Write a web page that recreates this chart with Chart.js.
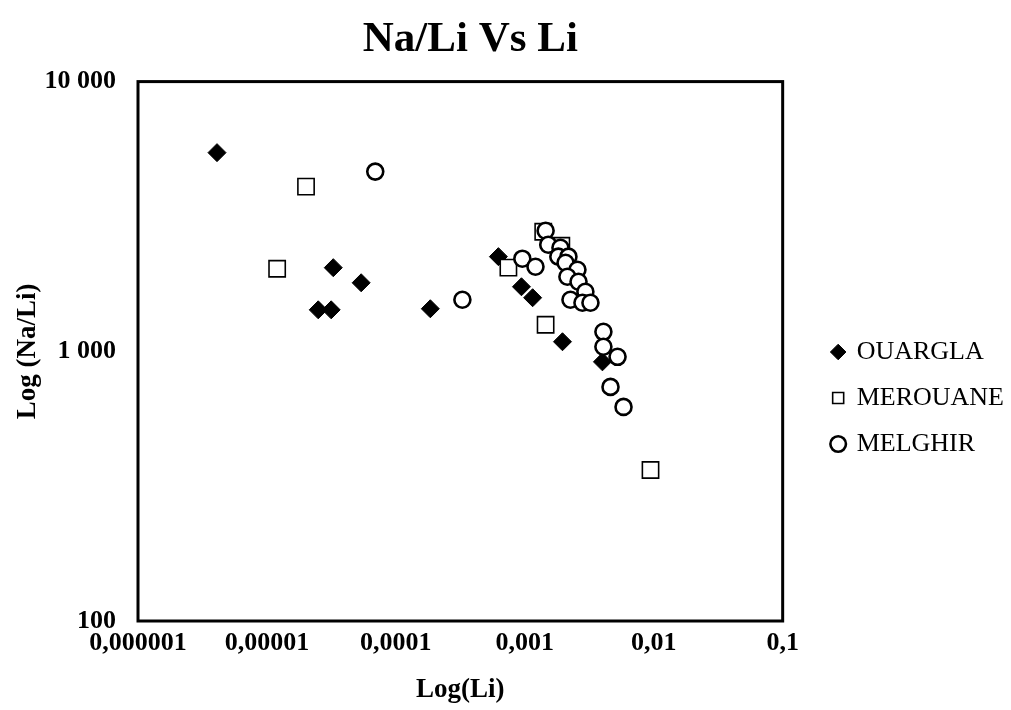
<!DOCTYPE html>
<html>
<head>
<meta charset="utf-8">
<title>Na/Li Vs Li</title>
<script src="https://cdn.jsdelivr.net/npm/chart.js@4.4.1/dist/chart.umd.min.js"></script>
<style>
  html, body { margin: 0; padding: 0; background: #fff; }
</style>
</head>
<body>
<canvas id="naLiChart" width="1011" height="710"></canvas>
<script>
// Li (x) and Na/Li ratio (y) for each site
const ouarglaLi   = [4.1e-6, 3.27e-5, 2.5e-5, 3.15e-5, 5.38e-5, 1.85e-4, 6.24e-4, 9.42e-4, 1.15e-3, 1.96e-3, 4.0e-3];
const ouarglaNaLi = [5453, 2042, 1425, 1425, 1795, 1438, 2244, 1735, 1580, 1085, 914];

const merouaneLi   = [1.2e-5, 2.01e-5, 7.46e-4, 1.45e-3, 9.44e-3, 1.39e-3, 1.92e-3];
const merouaneNaLi = [2024, 4077, 2042, 1254, 363, 2776, 2463];

const melghirLi   = [6.92e-5, 3.28e-4, 9.57e-4, 1.21e-3, 1.45e-3, 1.52e-3, 1.89e-3, 1.82e-3, 2.18e-3, 2.07e-3,
                     2.56e-3, 2.14e-3, 2.61e-3, 2.95e-3, 2.26e-3, 2.8e-3, 3.23e-3, 4.07e-3, 4.07e-3, 5.24e-3,
                     4.62e-3, 5.83e-3];
const melghirNaLi = [4637, 1553, 2205, 2059, 2800, 2485, 2421, 2244, 2244, 2130,
                     2006, 1890, 1811, 1663, 1553, 1514, 1514, 1181, 1040, 954,
                     738, 622];

const xTicks = [0.000001, 0.00001, 0.0001, 0.001, 0.01, 0.1];
const yTicks = [100, 1000, 10000];

const serif = "'Liberation Serif', 'Times New Roman', serif";

const toPoints = (xs, ys) => xs.map((x, i) => ({ x: x, y: ys[i] }));

// plot frame on all four sides
const framePlugin = {
  id: 'frame',
  beforeDatasetsDraw(chart) {
    const { ctx, chartArea: a } = chart;
    ctx.save();
    ctx.strokeStyle = '#000';
    ctx.lineWidth = 3;
    ctx.strokeRect(a.left, a.top, a.right - a.left, a.bottom - a.top);
    ctx.restore();
  }
};

// nudge title and legend blocks after layout
const blockShift = {
  id: 'blockShift',
  afterLayout(chart, args, opts) {
    const lg = chart.legend;
    lg.left += opts.legendDx; lg.right += opts.legendDx;
    lg.top += opts.legendDy; lg.bottom += opts.legendDy;
    const tb = chart.titleBlock;
    tb.left += opts.titleDx; tb.right += opts.titleDx;
  }
};

const ctx = document.getElementById('naLiChart');
const chart = new Chart(ctx, {
  type: 'scatter',
  data: {
    datasets: [
      {
        label: 'OUARGLA',
        data: toPoints(ouarglaLi, ouarglaNaLi),
        pointStyle: 'rectRot',
        radius: 9,
        backgroundColor: '#000',
        borderColor: '#000',
        borderWidth: 1,
        order: 3
      },
      {
        label: 'MEROUANE',
        data: toPoints(merouaneLi, merouaneNaLi),
        pointStyle: 'rect',
        radius: 11.5,
        backgroundColor: '#fff',
        borderColor: '#000',
        borderWidth: 1.6,
        order: 2
      },
      {
        label: 'MELGHIR',
        data: toPoints(melghirLi, melghirNaLi),
        pointStyle: 'circle',
        radius: 8,
        backgroundColor: '#fff',
        borderColor: '#000',
        borderWidth: 2.6,
        order: 1
      }
    ]
  },
  options: {
    responsive: false,
    animation: false,
    events: [],
    layout: { padding: { top: 14, right: 27, bottom: 4, left: 4 } },
    plugins: {
      title: {
        display: true,
        text: 'Na/Li Vs Li',
        fullSize: false,
        color: '#000',
        font: { family: serif, size: 43, weight: 'bold' },
        padding: { top: 0, bottom: 16 }
      },
      legend: {
        position: 'right',
        labels: {
          usePointStyle: true,
          boxWidth: 11,
          boxHeight: 11,
          padding: 20,
          color: '#000',
          font: { family: serif, size: 26 },
          sort: (a, b) => a.datasetIndex - b.datasetIndex
        }
      },
      blockShift: { legendDx: 30, legendDy: 38, titleDx: 10 },
      tooltip: { enabled: false }
    },
    scales: {
      x: {
        type: 'logarithmic',
        min: 0.000001,
        max: 0.1,
        afterBuildTicks: s => { s.ticks = xTicks.map(v => ({ value: v })); },
        afterFit: s => { s.height = 85; },
        grid: { display: false, drawTicks: false },
        border: { display: false },
        ticks: {
          color: '#000',
          padding: 7,
          autoSkip: false,
          maxRotation: 0,
          font: { family: serif, size: 26, weight: 'bold' },
          callback: v => String(v).replace('.', ',')
        },
        title: {
          display: true,
          text: 'Log(Li)',
          color: '#000',
          font: { family: serif, size: 27, weight: 'bold' },
          padding: { top: 10, bottom: 0 }
        }
      },
      y: {
        type: 'logarithmic',
        min: 100,
        max: 10000,
        afterBuildTicks: s => { s.ticks = yTicks.map(v => ({ value: v })); },
        afterFit: s => { s.width = 134; },
        grid: { display: false, drawTicks: false },
        border: { display: false },
        ticks: {
          color: '#000',
          padding: 22,
          font: { family: serif, size: 26, weight: 'bold' },
          callback: v => String(v).replace(/\B(?=(\d{3})+(?!\d))/g, ' ')
        },
        title: {
          display: true,
          text: 'Log (Na/Li)',
          color: '#000',
          font: { family: serif, size: 27, weight: 'bold' },
          padding: { top: 8, bottom: 0 }
        }
      }
    }
  },
  plugins: [framePlugin, blockShift]
});
</script>
</body>
</html>
